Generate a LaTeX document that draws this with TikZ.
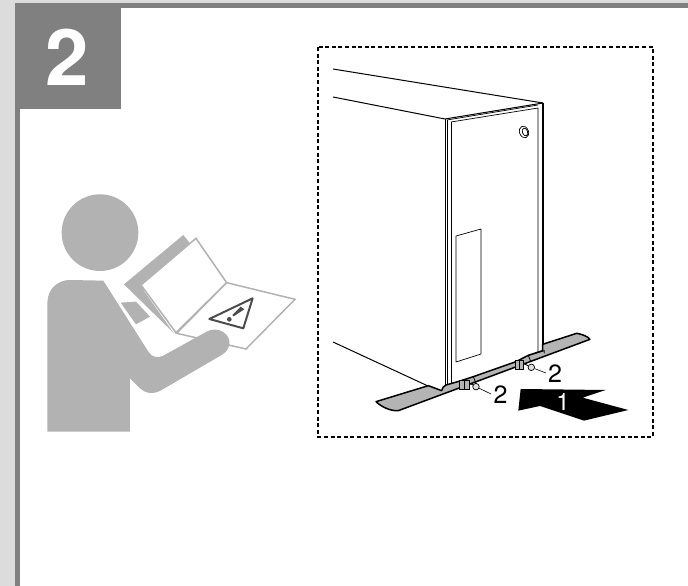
\documentclass[tikz,border=0pt]{standalone}
\usepackage{fontspec}
\setmainfont{TeX Gyre Heros}
\definecolor{strip}{HTML}{DCDCDC}
\definecolor{band}{HTML}{808080}
\definecolor{person}{HTML}{B2B2B2}
\definecolor{plate}{HTML}{B4B4B4}
\tikzset{
  figline/.style={draw=black,line width=1pt,line join=round},
  thinline/.style={draw=black,line width=.7pt,line join=round},
  pageline/.style={draw=person,fill=white,line width=1.5pt,line join=miter},
  smalllabel/.style={font=\fontsize{25}{25}\selectfont,inner sep=0pt},
  screwhead/.style={circle,draw=black,fill=plate!40,line width=.7pt,minimum size=6.5pt,inner sep=0pt},
  leaderline/.style={draw=black,line width=.6pt}
}
\begin{document}
\begin{tikzpicture}[x=1pt,y=-1pt]
\useasboundingbox (0,0) rectangle (688,586);
% frame
\fill[white] (0,0) rectangle (688,586);
\fill[strip] (0,0) rectangle (15,586);
\fill[strip] (0,0) rectangle (688,3);
\fill[band] (15,3) rectangle (688,8);
\fill[band] (15,3) rectangle (20,586);
\fill[band] (15,3) rectangle (121,108.5);
\node[text=white,font=\fontsize{78}{78}\selectfont\bfseries,inner sep=0pt] (stepnum) at (67.5,57) {2};
% person and manual
\begin{scope}[shift={(30,190)},x=.3333pt,y=-.3333pt]
  \fill[person] (282,283) -- (460,135) -- (480,160) -- (340,300) -- (432,430) -- cycle;
  \draw[pageline] (440,430) -- (590,278) -- (795,328) -- (648,477) -- cycle;
  \draw[pageline] (333,285) -- (498,145) -- (590,278) -- (438,428) -- cycle;
  \fill[person] (272,338) -- (318,335) -- (360,380) -- (318,403) -- cycle;
  \draw[draw=black!70,line width=2pt,line join=round,fill=white] (538,387) -- (668,325) -- (640,415) -- cycle;
  \fill[black!70] (632,350) -- (643,358) -- (611,379) -- (607,375) -- cycle;
  \fill[black!70] (598,388) circle (7);
  \fill[person] (210,128) circle (115);
  \fill[person] (52,725) -- (52,340) .. controls (52,295) and (85,270) .. (120,270)
    -- (220,272) -- (355,485) .. controls (365,503) and (385,505) .. (400,497)
    -- (530,425) .. controls (565,405) and (605,435) .. (598,465)
    .. controls (595,480) and (585,488) .. (575,495)
    -- (395,600) .. controls (370,615) and (345,610) .. (330,595)
    -- (300,565) -- (300,725) -- cycle;
\end{scope}
% dashed frame
\draw[black,line width=1.5pt,dash pattern=on 4pt off 2.6pt] (318,47) rectangle (653,437);
% cabinet
\coordinate (corner) at (543,103);
\draw[figline] (333,69) -- (corner);
\draw[figline] (333,97) -- (445,119) -- (corner);
\draw[thinline] (447,120) -- (538,105);
\draw[thinline] (451,122) -- (538,108) -- (538,352);
\draw[line width=1.4pt] (corner) -- (543,345);
\draw[figline] (445,119) -- (445,386);
\draw[thinline] (447.5,120) -- (447.5,386);
\draw[figline] (451,122) -- (451,384);
\draw[thinline] (456,236) -- (481,229) -- (481,354) -- (456,362) -- cycle;
\draw[thinline] (524,132) ellipse [x radius=4.5,y radius=6,rotate=20];
\draw[thinline] (525,132) ellipse [x radius=2.6,y radius=4,rotate=20];
\draw[figline] (333,342) -- (428,386);
% foot plate (zoom coordinates)
\begin{scope}[shift={(360,320)},x=.3333pt,y=-.3333pt]
  \draw[fill=plate,line width=1.5pt,line join=round] (48,245) -- (205,197) -- (245,212)
    .. controls (247,204) and (250,198) .. (258,195) -- (300,183) -- (340,170) -- (468,125) -- (505,106) -- (548,92) -- (548,73) -- (650,40)
    .. controls (665,42) and (685,50) .. (690,58) -- (115,272)
    .. controls (95,274) and (65,262) .. cycle;
  \draw[line width=.8pt] (340,170) -- (348,190);
  \draw[line width=.8pt] (505,106) -- (512,124);
  \draw[line width=.8pt] (505,106) -- (553,92) -- (553,100);
  \draw[fill=plate,line width=1pt] (300,182) rectangle (328,208);
  \draw[line width=.9pt] (312,182) -- (312,208);
  \draw[fill=plate,line width=1pt] (466,122) rectangle (492,148);
  \draw[line width=.9pt] (478,122) -- (478,148);
  \node[screwhead] (screwa) at (348,200) {};
  \node[screwhead] (screwb) at (514,142) {};
  \draw[line width=.9pt] (330,190) -- (screwa);
  \draw[line width=.9pt] (494,132) -- (screwb);
  \fill[black] (482,207) -- (737,210) -- (668,233) -- (805,270) -- (672,302) -- (540,258) -- (475,272) -- cycle;
\end{scope}
\node[smalllabel] (labela) at (500.5,395) {2};
\node[smalllabel] (labelb) at (555,374) {2};
\node[smalllabel,text=white,font=\fontsize{24}{24}\selectfont] (labelc) at (563,402) {1};
\draw[leaderline] (screwa) -- (491,394);
\draw[leaderline] (screwb) -- (546,373);
\end{tikzpicture}
\end{document}
